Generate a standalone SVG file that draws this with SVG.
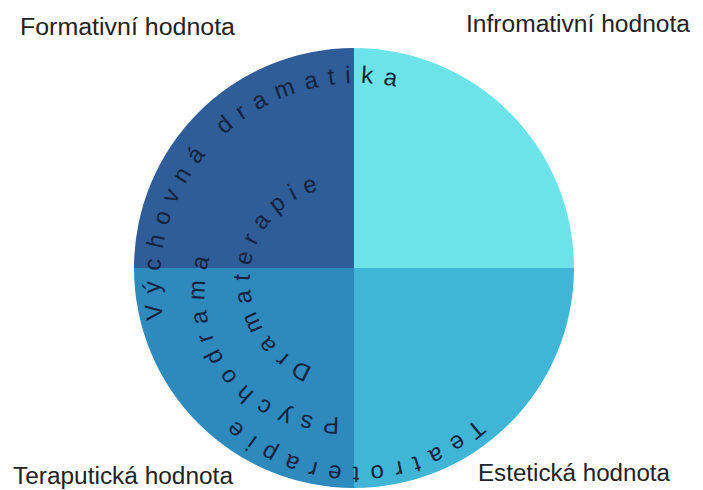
<svg xmlns="http://www.w3.org/2000/svg" width="703" height="490" viewBox="0 0 703 490">
<style>
.lbl{font-family:"Liberation Sans",Arial,sans-serif;font-size:23px;fill:#222222}
.arc{font-family:"Liberation Sans",Arial,sans-serif;font-size:24px;fill:#17223d}
</style>
<defs>
<path id="p1" d="M163.5,318.95 A198.5,198.5 0 0 1 458.5,110.1"/>
<path id="p2" d="M312.8,367.0 A92,92 0 1 1 371.1,192.1"/>
<path id="p3" d="M339.2,416.7 A125,125 0 0 1 249.6,196.2"/>
<path id="p4" d="M476.3,418.3 A176.5,176.5 0 0 1 178.5,290"/>
</defs>
<rect width="703" height="490" fill="#ffffff"/>
<g id="quadrants">
<path id="q-tl" d="M354,268 L134,268 A220,220 0 0 1 354,48 Z" fill="#2e5d98"/>
<path id="q-tr" d="M354,268 L354,48 A220,220 0 0 1 574,268 Z" fill="#6be3e9"/>
<path id="q-br" d="M354,268 L574,268 A220,220 0 0 1 354,488 Z" fill="#41b5d6"/>
<path id="q-bl" d="M354,268 L354,488 A220,220 0 0 1 134,268 Z" fill="#2e89bd"/>
</g>
<g id="curved-texts">
<text id="t-vychovna" class="arc" letter-spacing="9.95"><textPath href="#p1">Výchovná dramatika</textPath></text>
<text id="t-dramaterapie" class="arc" letter-spacing="8.2"><textPath href="#p2">Dramaterapie</textPath></text>
<text id="t-psychodrama" class="arc" letter-spacing="9.3"><textPath href="#p3">Psychodrama</textPath></text>
<text id="t-teatroterapie" class="arc" letter-spacing="10.4"><textPath href="#p4">Teatroterapie</textPath></text>
</g>
<g id="labels">
<text id="l-formativni" class="lbl" x="20" y="35" textLength="215" lengthAdjust="spacingAndGlyphs">Formativní hodnota</text>
<text id="l-informativni" class="lbl" x="466" y="32" textLength="224" lengthAdjust="spacingAndGlyphs">Infromativní hodnota</text>
<text id="l-terapeuticka" class="lbl" x="13" y="484" textLength="220" lengthAdjust="spacingAndGlyphs">Teraputická hodnota</text>
<text id="l-esteticka" class="lbl" x="478" y="481" textLength="192" lengthAdjust="spacingAndGlyphs">Estetická hodnota</text>
</g>
</svg>
